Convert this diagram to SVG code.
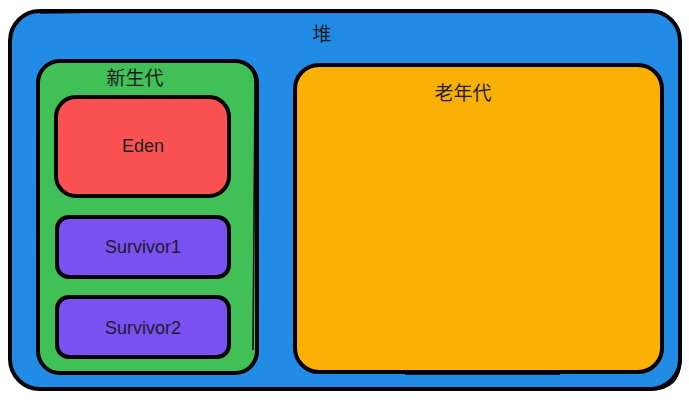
<svg xmlns="http://www.w3.org/2000/svg" width="689" height="402" viewBox="0 0 689 402">
<style>
.box{stroke:#000;stroke-width:4;stroke-linejoin:round}
.sk{fill:none;stroke:#000;stroke-width:1.5}
.cjk{font-family:"Noto Sans CJK SC","Noto Sans",sans-serif;font-size:19px;fill:#1e1e1e;text-anchor:middle;dominant-baseline:central}
.lbl{font-family:"Liberation Sans","DejaVu Sans",sans-serif;font-size:18px;fill:#1e1e1e;text-anchor:middle;dominant-baseline:central}
</style>
<rect width="689" height="402" fill="#ffffff"/>
<g id="heap">
<rect class="box" x="10" y="11" width="670" height="378" rx="30" fill="#228be6"/>
<path class="sk" d="M40 13 Q300 9 650 12 Q681 13 679 45 L681 360 Q680 391 648 390 L42 388"/>
<text class="cjk" x="322" y="32">堆</text>
</g>
<g id="young">
<rect class="box" x="38" y="61" width="219" height="312" rx="22" fill="#40c057"/>
<path class="sk" d="M60 60 L232 61 Q256 62 255 86 L253 350"/>
<text class="cjk" x="135" y="76">新生代</text>
</g>
<g id="eden">
<rect class="box" x="56" y="97" width="173" height="99" rx="20" fill="#fa5252"/>
<text class="lbl" x="143" y="146">Eden</text>
</g>
<g id="survivor1">
<rect class="box" x="57" y="217" width="172" height="60" rx="12" fill="#7950f2"/>
<text class="lbl" x="143" y="247">Survivor1</text>
</g>
<g id="survivor2">
<rect class="box" x="57" y="297" width="172" height="60" rx="12" fill="#7950f2"/>
<text class="lbl" x="143" y="328">Survivor2</text>
</g>
<g id="old">
<rect class="box" x="295" y="65" width="367" height="307" rx="24" fill="#fab005"/>
<path class="sk" d="M405 374 L560 374"/>
<text class="cjk" x="463" y="91">老年代</text>
</g>
<g id="connectors"></g>
</svg>
